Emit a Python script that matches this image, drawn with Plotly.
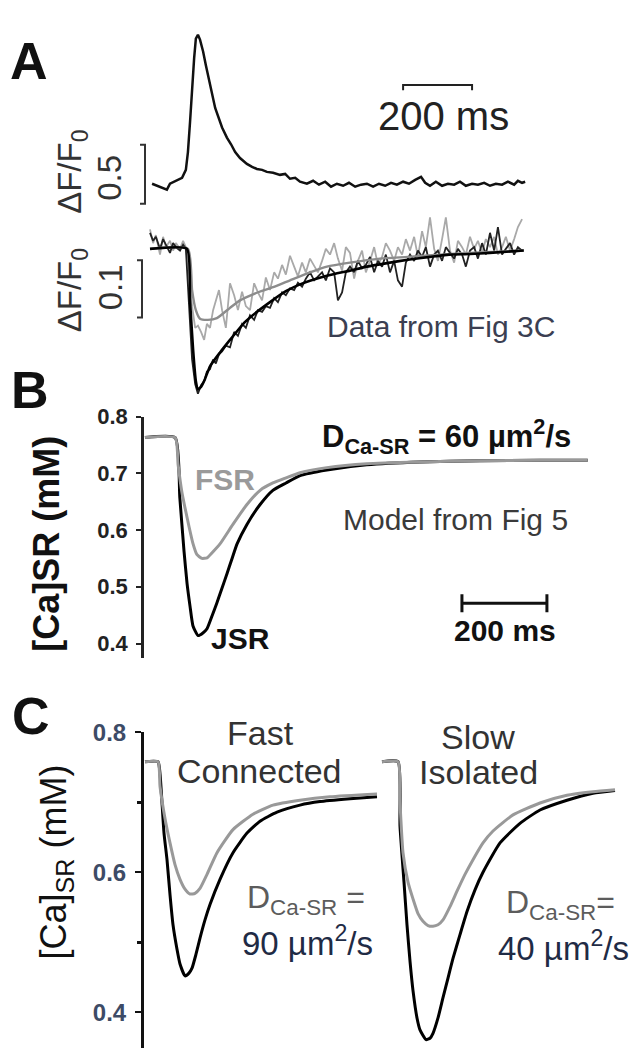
import plotly.graph_objects as go

W, H = 638, 1050
FONT = "Liberation Sans, Arial, sans-serif"

# ---- panel A, top: whole-cell transient (dF/F0 vs ms)
a_spike_t = [35, 49, 64, 78, 87, 99, 110, 122, 133, 139, 145, 151, 157, 162, 168, 174, 183, 191, 203, 218,
             238, 252, 264, 276, 290, 310, 325, 339, 354, 368, 386, 406, 421, 435, 450, 464, 484,
             502, 519, 537, 554, 571, 589, 606, 624, 641, 658, 676, 693, 711, 728, 745, 763, 780, 798, 815, 827,
             841, 858, 876, 893, 911, 928, 945, 963, 980, 998, 1015, 1032, 1050, 1067, 1085, 1096, 1108, 1117]
a_spike_v = [0.0, -0.017, -0.033, -0.05, 0.0, 0.017, 0.033, 0.05, 0.117, 0.267, 0.517, 0.81, 1.06, 1.225, 1.258,
             1.217, 1.117, 1.0, 0.85, 0.64, 0.475, 0.39, 0.333, 0.267, 0.217, 0.167, 0.142, 0.125, 0.117, 0.1,
             0.092, 0.075, 0.083, 0.042, 0.05, 0.017, 0.0,
             0.025, -0.008, 0.017, -0.025, 0.0, -0.017, 0.008, -0.025, -0.008, 0.0, -0.025, 0.0, -0.017, 0.008,
             -0.008, 0.017, 0.0, 0.033, 0.058, 0.008, -0.017, 0.017, -0.017, 0.0, -0.008, 0.017, -0.017, 0.0,
             -0.008, 0.008, -0.017, 0.0, -0.008, 0.017, -0.008, 0.025, 0.008, 0.017]

# ---- panel A, bottom: SR depletion signals (noisy data + fits)
a_t = [29, 38, 46, 58, 67, 75, 87, 96, 104, 116, 125, 133, 142, 151, 160, 168, 177, 186, 194, 203, 212, 220, 229, 238,
       249, 261, 273, 284, 296, 307, 319, 331, 342, 354, 365, 377, 389, 400, 412, 423, 435, 447, 458, 470,
       481, 493, 505, 516, 528, 539, 551, 563, 574, 586, 597, 609, 621, 632, 644, 655, 667, 679, 690, 702,
       713, 725, 737, 748, 760, 771, 783, 795, 806, 818, 829, 841, 853, 864, 876, 887, 899, 911, 922, 934,
       945, 957, 969, 980, 992, 1003, 1015, 1027, 1038, 1050, 1061, 1073, 1085, 1096, 1108]
a_black = [0.028, 0.014, 0.021, 0.0, 0.017, 0.007, -0.007, 0.010, 0.003, -0.003, 0.007, 0.0,
           -0.107, -0.193, -0.236, -0.253, -0.238, -0.231, -0.214, -0.210, -0.193, -0.2, -0.184, -0.179,
           -0.169, -0.172, -0.145, -0.152, -0.131, -0.138, -0.116, -0.124, -0.107, -0.110,
           -0.1, -0.103, -0.086, -0.093, -0.076, -0.081, -0.069, -0.072, -0.059, -0.066,
           -0.052, -0.041, -0.055, -0.048, -0.041, -0.055, -0.034, -0.041, -0.090, -0.076,
           -0.041, -0.031, -0.041, -0.021, -0.034, -0.028, -0.014, -0.041, -0.021, -0.031,
           -0.010, -0.041, -0.021, -0.055, -0.066, -0.024, -0.010, -0.021, -0.003, -0.014,
           0.003, -0.031, -0.010, -0.003, -0.021, 0.003, -0.007, -0.017, 0.0, -0.010,
           -0.031, -0.003, 0.003, -0.017, 0.010, -0.010, 0.028, -0.003, 0.038, -0.010,
           0.0, 0.010, -0.010, 0.003, -0.003]
a_gray = [0.034, 0.010, 0.024, -0.010, 0.021, 0.003, 0.014, -0.003, 0.010, 0.0, 0.014, 0.003,
          -0.041, -0.1, -0.138, -0.134, -0.145, -0.159, -0.131, -0.138, -0.107, -0.090, -0.072, -0.107,
          -0.138, -0.060, -0.081, -0.107, -0.075, -0.1, -0.107, -0.060, -0.076, -0.090,
          -0.050, -0.072, -0.041, -0.052, -0.028, -0.045, -0.012, -0.031, -0.048, -0.024,
          -0.041, -0.017, -0.031, -0.041, -0.021, 0.0, -0.010, 0.010, -0.017, -0.038,
          0.003, -0.007, -0.052, -0.021, -0.003, -0.041, -0.021, 0.003, -0.028, -0.014,
          0.010, -0.003, -0.021, 0.003, -0.010, 0.017, -0.003, 0.021, -0.014, 0.031,
          0.003, 0.055, 0.0, -0.021, 0.017, 0.055, -0.003, -0.024, 0.014, 0.003,
          -0.010, 0.021, 0.0, 0.014, -0.007, 0.017, 0.003, 0.021, -0.010, 0.003,
          0.021, -0.003, 0.017, 0.038, 0.052]
fit_black_t = [29, 136, 145, 154, 162, 168, 177, 188, 203, 232, 261, 304, 339, 377, 423, 464, 542, 609, 658,
               725, 777, 841, 896, 957, 1014, 1113]
fit_black_v = [0.0, 0.0, -0.090, -0.176, -0.231, -0.245, -0.241, -0.228, -0.205, -0.181, -0.159, -0.128,
               -0.110, -0.093, -0.074, -0.062, -0.047, -0.038, -0.031, -0.024, -0.019, -0.014, -0.010,
               -0.009, -0.007, -0.003]
fit_gray_t = [29, 139, 151, 162, 174, 197, 223, 261, 290, 333, 386, 435, 493, 542, 609, 696, 777, 870, 957,
              1043, 1113]
fit_gray_v = [0.0, 0.0, -0.072, -0.107, -0.122, -0.124, -0.121, -0.103, -0.090, -0.078, -0.067, -0.055,
              -0.041, -0.031, -0.024, -0.017, -0.014, -0.010, -0.007, -0.005, -0.003]

# ---- panel B: model [Ca]SR, D = 60 um2/s
b_jsr_t = [7, 78, 89, 99, 106, 113, 120, 132, 144, 153, 165, 176, 188, 200, 212, 224, 247, 278, 308, 339,
           372, 435, 529, 654, 795, 936, 1049]
b_jsr_v = [0.763, 0.763, 0.657, 0.562, 0.506, 0.466, 0.431, 0.414, 0.419, 0.426, 0.449, 0.471, 0.497, 0.523,
           0.550, 0.576, 0.610, 0.645, 0.670, 0.683, 0.696, 0.706, 0.715, 0.720, 0.722, 0.723, 0.723]
b_fsr_t = [7, 78, 85, 94, 101, 111, 120, 129, 141, 153, 165, 184, 214, 247, 278, 308, 339, 372, 435, 529,
           654, 795, 936, 1049]
b_fsr_v = [0.763, 0.763, 0.715, 0.666, 0.640, 0.605, 0.576, 0.557, 0.550, 0.551, 0.560, 0.576, 0.610, 0.645,
           0.670, 0.683, 0.692, 0.701, 0.710, 0.717, 0.720, 0.722, 0.723, 0.723]

# ---- panel C: fast connected (90 um2/s) and slow isolated (40 um2/s)
c_fast_jsr_t = [6, 32, 36, 44, 50, 56, 62, 70, 76, 86, 94, 100, 108, 116, 126, 136, 156, 182, 210, 236, 270,
                316, 356, 416, 470]
c_fast_jsr_v = [0.758, 0.758, 0.741, 0.656, 0.618, 0.568, 0.525, 0.490, 0.469, 0.452, 0.456, 0.463, 0.483,
                0.506, 0.532, 0.554, 0.590, 0.628, 0.656, 0.673, 0.686, 0.696, 0.701, 0.705, 0.708]
c_fast_fsr_t = [6, 32, 36, 46, 56, 66, 76, 86, 96, 106, 116, 130, 150, 182, 222, 262, 316, 376, 470]
c_fast_fsr_v = [0.758, 0.758, 0.723, 0.677, 0.642, 0.611, 0.590, 0.576, 0.569, 0.570, 0.577, 0.597, 0.628,
                0.661, 0.683, 0.696, 0.703, 0.708, 0.712]
c_slow_jsr_t = [0, 32, 36, 44, 50, 56, 62, 70, 76, 88, 96, 102, 112, 122, 132, 142, 156, 170, 186, 202, 236,
                276, 316, 370, 422, 466]
c_slow_jsr_v = [0.758, 0.758, 0.666, 0.586, 0.525, 0.473, 0.431, 0.392, 0.375, 0.361, 0.363, 0.370, 0.392,
                0.421, 0.449, 0.477, 0.511, 0.544, 0.575, 0.600, 0.642, 0.670, 0.689, 0.703, 0.713, 0.717]
c_slow_fsr_t = [0, 32, 36, 42, 52, 62, 72, 82, 92, 102, 112, 122, 136, 150, 166, 182, 202, 222, 262, 316, 370,
                422, 466]
c_slow_fsr_v = [0.758, 0.758, 0.699, 0.628, 0.586, 0.562, 0.541, 0.530, 0.524, 0.523, 0.525, 0.532, 0.551,
                0.573, 0.597, 0.618, 0.642, 0.659, 0.682, 0.699, 0.710, 0.715, 0.718]

b_ticks = [0.4, 0.5, 0.6, 0.7, 0.8]
c_ticks = [0.4, 0.6, 0.8]


def px(x):
    return x / W


def py(y):
    return 1 - y / H


def note(text, x, y, size, color="#222222", bold=False, angle=0):
    return dict(text=text, x=px(x), y=py(y), xref="paper", yref="paper", showarrow=False,
                xanchor="center", yanchor="middle", textangle=angle,
                font=dict(family=FONT, size=size, color=color, weight="bold" if bold else "normal"))


GRAY = "#999999"
fig = go.Figure()

# A top
fig.add_trace(go.Scatter(x=a_spike_t, y=a_spike_v, mode="lines", line=dict(color="#111111", width=2.5),
                         xaxis="x", yaxis="y"))
# A bottom
fig.add_trace(go.Scatter(x=a_t, y=a_gray, mode="lines", line=dict(color="#a9a9a9", width=1.8),
                         xaxis="x2", yaxis="y2"))
fig.add_trace(go.Scatter(x=a_t, y=a_black, mode="lines", line=dict(color="#222222", width=1.8),
                         xaxis="x2", yaxis="y2"))
fig.add_trace(go.Scatter(x=fit_gray_t, y=fit_gray_v, mode="lines", line=dict(color="#8c8c8c", width=2.4,
                         shape="spline", smoothing=0.5), xaxis="x2", yaxis="y2"))
fig.add_trace(go.Scatter(x=fit_black_t, y=fit_black_v, mode="lines", line=dict(color="#000000", width=2.6,
                         shape="spline", smoothing=0.5), xaxis="x2", yaxis="y2"))
# B
fig.add_trace(go.Scatter(x=b_jsr_t, y=b_jsr_v, mode="lines", line=dict(color="#000000", width=3,
                         shape="spline", smoothing=0.5), xaxis="x3", yaxis="y3"))
fig.add_trace(go.Scatter(x=b_fsr_t, y=b_fsr_v, mode="lines", line=dict(color=GRAY, width=3,
                         shape="spline", smoothing=0.5), xaxis="x3", yaxis="y3"))
# C
for t, v, col, xa in [(c_fast_jsr_t, c_fast_jsr_v, "#000000", "x4"), (c_fast_fsr_t, c_fast_fsr_v, GRAY, "x4"),
                      (c_slow_jsr_t, c_slow_jsr_v, "#000000", "x5"), (c_slow_fsr_t, c_slow_fsr_v, GRAY, "x5")]:
    fig.add_trace(go.Scatter(x=t, y=v, mode="lines", line=dict(color=col, width=3, shape="spline", smoothing=0.5),
                             xaxis=xa, yaxis="y4" if xa == "x4" else "y5"))

hidden = dict(visible=False, fixedrange=True)
fig.update_layout(
    width=W, height=H, margin=dict(l=0, r=0, t=0, b=0),
    paper_bgcolor="white", plot_bgcolor="white", showlegend=False, hovermode=False,
    xaxis=dict(hidden, domain=[px(140), px(560)], range=[0, 1218], anchor="y"),
    yaxis=dict(hidden, domain=[py(200), py(0)], range=[-0.233, 1.433], anchor="x"),
    xaxis2=dict(hidden, domain=[px(140), px(560)], range=[0, 1218], anchor="y2"),
    yaxis2=dict(hidden, domain=[py(400), py(200)], range=[-0.279, 0.0655], anchor="x2"),
    xaxis3=dict(hidden, domain=[px(142), px(620)], range=[0, 1125], anchor="y3"),
    yaxis3=dict(domain=[py(653), py(408)], range=[0.374, 0.8], anchor="free", position=px(142),
                showline=True, linecolor="#222222", linewidth=2.5, ticks="outside", ticklen=5,
                tickwidth=2, tickcolor="#222222", tickvals=b_ticks, ticktext=[f"{v:.1f}" for v in b_ticks],
                ticklabelstandoff=4, showgrid=False, zeroline=False, fixedrange=True,
                tickfont=dict(family=FONT, size=22, color="#222222", weight="bold")),
    xaxis4=dict(hidden, domain=[px(142), px(380)], range=[0, 476], anchor="y4"),
    yaxis4=dict(domain=[py(1048), py(728)], range=[0.349, 0.8], anchor="free", position=px(142),
                showline=True, linecolor="#111111", linewidth=3, ticks="outside", ticklen=6,
                tickwidth=2, tickcolor="#111111", tickvals=c_ticks, ticktext=[f"{v:.1f}" for v in c_ticks],
                minor=dict(tickvals=[0.5, 0.7], ticks="outside", ticklen=4, tickwidth=3, tickcolor="#111111"),
                ticklabelstandoff=4, showgrid=False, zeroline=False, fixedrange=True,
                tickfont=dict(family=FONT, size=24, color="#3d4b66", weight="bold")),
    xaxis5=dict(hidden, domain=[px(380), px(630)], range=[-4, 496], anchor="y5"),
    yaxis5=dict(hidden, domain=[py(1048), py(728)], range=[0.349, 0.8], anchor="x5"),
)

# scale bars and brackets
fig.add_shape(type="path", path="M 763,0.79 L 763,0.833 L 963,0.833 L 963,0.79", xref="x", yref="y",
              line=dict(color="#222222", width=2))
fig.add_shape(type="path", path=f"M {px(140)},0.33 L {px(145)},0.33 L {px(145)},-0.17 L {px(140)},-0.17",
              xref="paper", yref="y", line=dict(color="#333333", width=2))
fig.add_shape(type="path", path=f"M {px(137)},-0.02 L {px(142)},-0.02 L {px(142)},-0.12 L {px(137)},-0.12",
              xref="paper", yref="y2", line=dict(color="#333333", width=2))
fig.add_shape(type="line", x0=753, x1=953, y0=0.471, y1=0.471, xref="x3", yref="y3",
              line=dict(color="#111111", width=3))
for xe in (753, 953):
    fig.add_shape(type="line", x0=xe, x1=xe, y0=0.455, y1=0.487, xref="x3", yref="y3",
                  line=dict(color="#111111", width=3))

ann = [
    note("A", 29, 48, 52, "#111111", True),
    note("B", 30, 381, 52, "#111111", True),
    note("C", 31, 711, 52, "#111111", True),
    note("200 ms", 443, 103, 40, "#222222"),
    note("ΔF/F<sub>0</sub>", 72, 160, 33, "#333333", angle=-90),
    note("0.5", 110, 166, 33, "#333333", angle=-90),
    note("ΔF/F<sub>0</sub>", 72, 280, 33, "#333333", angle=-90),
    note("0.1", 110, 277, 33, "#333333", angle=-90),
    note("Data from Fig 3C", 441, 317, 30, "#3b3f52"),
    note("D<sub>Ca-SR</sub> = 60 µm<sup>2</sup>/s", 446, 428, 31, "#111111", True),
    note("FSR", 225, 472, 30, "#9a9a9a", True),
    note("JSR", 240, 633, 30, "#111111", True),
    note("Model from Fig 5", 455, 512, 30, "#3a3a3a"),
    note("200 ms", 505, 625, 30, "#111111", True),
    note("[Ca]SR (mM)", 47, 537, 36, "#111111", True, -90),
    note("Fast", 260, 729, 34, "#333333"),
    note("Connected", 259, 767, 34, "#333333"),
    note("Slow", 478, 733, 34, "#333333"),
    note("Isolated", 478, 768, 34, "#333333"),
    note("D<sub>Ca-SR</sub> =", 306, 897, 32, "#5c5c5c"),
    note("90 µm<sup>2</sup>/s", 307, 940, 33, "#1f2b45"),
    note("D<sub>Ca-SR</sub>=", 560, 903, 32, "#5c5c5c"),
    note("40 µm<sup>2</sup>/s", 563, 945, 33, "#1f2b45"),
    note("[Ca]<sub>SR</sub> (mM)", 56, 860, 36, "#111111", angle=-90),
]
fig.update_layout(annotations=ann)

# the page's default 8px body margin would push the figure off the window
fig.write_html("out.html", config={"displayModeBar": False},
               post_script="document.body.style.margin='0';")
